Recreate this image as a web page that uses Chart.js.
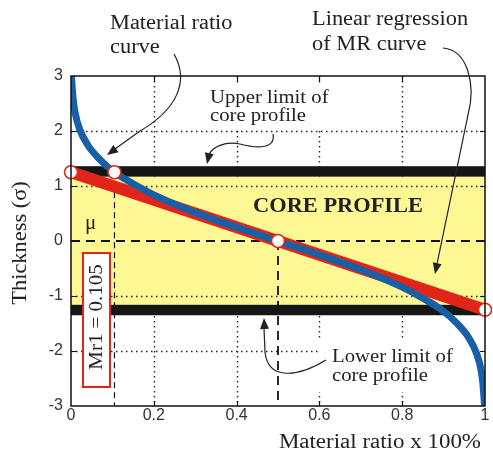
<!DOCTYPE html>
<html>
<head>
<meta charset="utf-8">
<script src="https://cdn.jsdelivr.net/npm/chart.js@4.4.1/dist/chart.umd.min.js"></script>
<style>
  html, body { margin: 0; padding: 0; background: #fff; }
  #wrap { width: 493px; height: 454px; }
</style>
</head>
<body>
<div id="wrap"><canvas id="mr-chart"></canvas></div>
<script>
// material ratio curve: thickness (sigma) against material ratio
const mr_ratio = [0.001, 0.005, 0.01, 0.02, 0.04, 0.07, 0.105, 0.15, 0.2, 0.3, 0.4, 0.5, 0.6, 0.7, 0.8, 0.85, 0.895, 0.93, 0.96, 0.98, 0.99, 0.995, 0.999]
const mr_thickness = [3, 2.6, 2.33, 2.05, 1.75, 1.48, 1.25, 1.04, 0.84, 0.52, 0.25, 0, -0.25, -0.52, -0.84, -1.04, -1.25, -1.48, -1.75, -2.05, -2.33, -2.6, -3]

// linear regression of the MR curve
const reg_ratio = [0, 1]
const reg_thickness = [1.25, -1.25]

// marked points on the lines
const mark_ratio = [0, 0.105, 0.5, 1]
const mark_thickness = [1.25, 1.25, 0, -1.25]
const mr1 = 0.105

// core profile and its limits (sigma)
const core_band = [-1.16, 1.17]
const upper_limit = [1.17, 1.36]
const lower_limit = [-1.35, -1.16]

// axis ticks
const x_ticks = [0, 0.2, 0.4, 0.6, 0.8, 1]
const y_ticks = [-3, -2, -1, 0, 1, 2, 3]

const serif = "'Liberation Serif', 'Times New Roman', serif"
const ink = '#222'
const red = '#e1251b'
const blue = '#1760a6'

function toPoints(xs, ys) {
  return xs.map((x, i) => ({ x: x, y: ys[i] }))
}

// text with a little horizontal stretch, the labels use a wide serif face
function wideText(ctx, str, x, y, size, opts) {
  opts = opts || {}
  ctx.save()
  ctx.font = (opts.bold ? 'bold ' : '') + size + 'px ' + serif
  ctx.fillStyle = opts.color || ink
  ctx.textAlign = opts.align || 'left'
  ctx.textBaseline = opts.baseline || 'alphabetic'
  ctx.translate(x, y)
  if (opts.rotate) ctx.rotate(opts.rotate)
  ctx.scale(opts.sx || 1.12, 1)
  ctx.fillText(str, 0, 0)
  ctx.restore()
}

function arrowHead(ctx, tx, ty, fx, fy) {
  const a = Math.atan2(ty - fy, tx - fx)
  const len = 11, half = 4.5
  ctx.beginPath()
  ctx.moveTo(tx, ty)
  ctx.lineTo(tx - len * Math.cos(a) + half * Math.sin(a), ty - len * Math.sin(a) - half * Math.cos(a))
  ctx.lineTo(tx - len * Math.cos(a) - half * Math.sin(a), ty - len * Math.sin(a) + half * Math.cos(a))
  ctx.closePath()
  ctx.fill()
}

// grid, bands and label backgrounds under the lines
const backdrop = {
  id: 'backdrop',
  beforeDatasetsDraw(chart) {
    const ctx = chart.ctx
    const a = chart.chartArea
    const xs = chart.scales.x, ys = chart.scales.y
    const band = (lo, hi, color) => {
      const top = ys.getPixelForValue(hi), bot = ys.getPixelForValue(lo)
      ctx.fillStyle = color
      ctx.fillRect(a.left, top, a.right - a.left, bot - top)
    }
    const hLines = (filter) => {
      ctx.save()
      ctx.strokeStyle = ink
      ctx.lineWidth = 1.4
      ctx.setLineDash([1.5, 3.5])
      y_ticks.filter(filter).forEach(v => {
        const py = Math.round(ys.getPixelForValue(v)) + 0.5
        ctx.beginPath(); ctx.moveTo(a.left, py); ctx.lineTo(a.right, py); ctx.stroke()
      })
      ctx.restore()
    }
    ctx.save()
    // vertical dotted grid
    ctx.strokeStyle = ink
    ctx.lineWidth = 1.4
    ctx.setLineDash([1.5, 3.5])
    x_ticks.filter(v => v > 0 && v < 1).forEach(v => {
      const px = Math.round(xs.getPixelForValue(v)) + 0.5
      ctx.beginPath(); ctx.moveTo(px, a.top); ctx.lineTo(px, a.bottom); ctx.stroke()
    })
    ctx.restore()
    hLines(v => v > -3 && v < 3 && v !== 0)
    // white patches behind the two limit labels
    ctx.fillStyle = '#fff'
    ctx.fillRect(205, 86, 131, 42)
    ctx.fillRect(318, 338, 164, 54)
    band(core_band[0], core_band[1], '#fdf893')
    band(upper_limit[0], upper_limit[1], '#161616')
    band(lower_limit[0], lower_limit[1], '#161616')
    hLines(v => v > core_band[0] && v < core_band[1] && v !== 0)
  },
  afterDatasetsDraw(chart) {
    const ctx = chart.ctx
    const a = chart.chartArea
    const xs = chart.scales.x, ys = chart.scales.y
    ctx.save()
    // frame and inward ticks
    ctx.strokeStyle = '#111'
    ctx.lineWidth = 1.5
    ctx.strokeRect(a.left, a.top, a.right - a.left, a.bottom - a.top)
    ctx.lineWidth = 1.2
    x_ticks.filter(v => v > 0 && v < 1).forEach(v => {
      const px = Math.round(xs.getPixelForValue(v)) + 0.5
      ctx.beginPath()
      ctx.moveTo(px, a.bottom); ctx.lineTo(px, a.bottom - 5)
      ctx.moveTo(px, a.top); ctx.lineTo(px, a.top + 5)
      ctx.stroke()
    })
    y_ticks.filter(v => v > -3 && v < 3).forEach(v => {
      const py = Math.round(ys.getPixelForValue(v)) + 0.5
      ctx.beginPath()
      ctx.moveTo(a.left, py); ctx.lineTo(a.left + 5, py)
      ctx.moveTo(a.right, py); ctx.lineTo(a.right - 5, py)
      ctx.stroke()
    })

    // Mr1 value box
    ctx.fillStyle = '#fff'
    ctx.fillRect(83, 253, 27, 134)
    ctx.strokeStyle = red
    ctx.lineWidth = 2
    ctx.strokeRect(83, 253, 27, 134)
    wideText(ctx, 'Mr1 = ' + mr1, 97, 317, 19, { align: 'center', baseline: 'middle', rotate: -Math.PI / 2, sx: 1.1 })

    // labels
    wideText(ctx, 'CORE PROFILE', 338, 212, 20, { bold: true, align: 'center' })
    wideText(ctx, 'μ', 85, 229, 20, { sx: 1.05 })
    wideText(ctx, 'Material ratio', 110, 29, 20)
    wideText(ctx, 'curve', 110, 53, 20)
    wideText(ctx, 'Linear regression', 312, 25, 20)
    wideText(ctx, 'of MR curve', 312, 50, 20)
    wideText(ctx, 'Upper limit of', 210, 103, 18.5)
    wideText(ctx, 'core profile', 210, 121, 18.5)
    wideText(ctx, 'Lower limit of', 332, 362, 18.5)
    wideText(ctx, 'core profile', 332, 381, 18.5)
    wideText(ctx, 'Thickness (σ)', 21, 243, 20, { align: 'center', baseline: 'middle', rotate: -Math.PI / 2 })
    wideText(ctx, 'Material ratio x 100%', 481, 448, 20.5, { align: 'right' })

    // callout arrows
    ctx.strokeStyle = ink
    ctx.fillStyle = ink
    ctx.lineWidth = 1.2
    ctx.beginPath()
    ctx.moveTo(174, 54)
    ctx.bezierCurveTo(190, 82, 176, 110, 140, 131)
    ctx.lineTo(115, 149)
    ctx.stroke()
    arrowHead(ctx, 107, 155, 140, 131)

    ctx.beginPath()
    ctx.moveTo(273, 134)
    ctx.bezierCurveTo(276, 150, 255, 148, 240, 144)
    ctx.bezierCurveTo(225, 141, 212, 147, 209, 155)
    ctx.stroke()
    arrowHead(ctx, 207, 164, 210, 150)

    ctx.beginPath()
    ctx.moveTo(443, 48)
    ctx.bezierCurveTo(468, 50, 476, 85, 468, 115)
    ctx.lineTo(437, 264)
    ctx.stroke()
    arrowHead(ctx, 435, 274, 468, 115)

    ctx.beginPath()
    ctx.moveTo(326, 360)
    ctx.bezierCurveTo(300, 376, 268, 382, 265, 352)
    ctx.lineTo(264, 328)
    ctx.stroke()
    arrowHead(ctx, 264, 318, 265, 340)
    ctx.restore()
  }
}

new Chart(document.getElementById('mr-chart'), {
  type: 'line',
  data: {
    datasets: [
      {
        // marked points
        data: toPoints(mark_ratio, mark_thickness),
        showLine: false,
        pointRadius: 6.5,
        pointBackgroundColor: '#fff',
        pointBorderColor: red,
        pointBorderWidth: 1.5,
        clip: false
      },
      {
        // material ratio curve
        data: toPoints(mr_ratio, mr_thickness),
        borderColor: blue,
        borderWidth: 7,
        pointRadius: 0,
        cubicInterpolationMode: 'monotone',
        clip: 0
      },
      {
        // linear regression
        data: toPoints(reg_ratio, reg_thickness),
        borderColor: red,
        borderWidth: 12,
        pointRadius: 0
      },
      {
        // mean line
        data: [{ x: 0, y: 0 }, { x: 1, y: 0 }],
        borderColor: '#111',
        borderWidth: 1.8,
        borderDash: [9, 6],
        pointRadius: 0
      },
      {
        data: [{ x: mark_ratio[2], y: mark_thickness[2] }, { x: mark_ratio[2], y: -3 }],
        borderColor: '#111',
        borderWidth: 1.8,
        borderDash: [9, 6],
        pointRadius: 0
      },
      {
        // Mr1 drop line
        data: [{ x: mr1, y: mark_thickness[1] }, { x: mr1, y: -3 }],
        borderColor: '#111',
        borderWidth: 1.2,
        borderDash: [6, 4],
        pointRadius: 0
      }
    ]
  },
  options: {
    responsive: true,
    maintainAspectRatio: false,
    animation: false,
    layout: { padding: { top: 76, right: 3, left: 0, bottom: 0 } },
    plugins: { legend: { display: false }, tooltip: { enabled: false } },
    scales: {
      x: {
        type: 'linear',
        min: 0,
        max: 1,
        afterBuildTicks: s => { s.ticks = x_ticks.map(v => ({ value: v })) },
        afterFit: s => { s.height = 48 },
        grid: { display: false, drawTicks: false },
        border: { display: false },
        ticks: {
          padding: 0,
          color: '#333',
          font: { family: "'Liberation Sans', Arial, sans-serif", size: 16 },
          maxRotation: 0,
          autoSkip: false,
          callback: v => String(+v.toFixed(2))
        }
      },
      y: {
        type: 'linear',
        min: -3,
        max: 3,
        afterBuildTicks: s => { s.ticks = y_ticks.map(v => ({ value: v })) },
        afterFit: s => { s.width = 71 },
        grid: { display: false, drawTicks: false },
        border: { display: false },
        ticks: {
          padding: 8,
          color: '#333',
          font: { family: "'Liberation Sans', Arial, sans-serif", size: 16 },
          autoSkip: false,
          callback: v => String(v)
        }
      }
    }
  },
  plugins: [backdrop]
});
</script>
</body>
</html>
